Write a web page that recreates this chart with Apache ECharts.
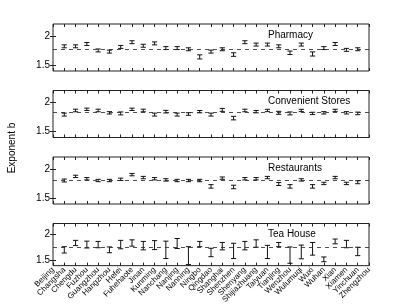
<!DOCTYPE html>
<html><head><meta charset="utf-8">
<script src="https://cdn.jsdelivr.net/npm/echarts@6/dist/echarts.min.js"></script>
<style>html,body{margin:0;padding:0;background:#fff}#c{width:407px;height:306px}</style>
</head><body><div id="c"></div>
<script>
const cities = ["Beijing","Changsha","Chengdu","Fuzhou","Guangzhou","Hangzhou","Hefei","Fuhehaote","Jinan","Kunming","Nanchang","Nanjing","Nanning","Ningbo","Qingdao","Shanghai","Shenzhen","Shenyang","Shijiazhuang","Taiyuan","Tianjing","Wenzhou","Wulumuqi","Wuxi","Wuhan","Xian","Xiamen","Yinchuan","Zhengzhou"];
const panelNames = ["Pharmacy","Convenient Stores","Restaurants","Tea House"];
const yTickValues = [1.5, 2];
const meanLines = [1.77, 1.83, 1.80, 1.74];

const pharmacyMean = [1.82,1.82,1.86,1.75,1.73,1.81,1.89,1.83,1.87,1.79,1.79,1.77,1.64,1.73,1.77,1.68,1.89,1.85,1.85,1.82,1.71,1.85,1.69,1.79,1.86,1.76,1.77];
const pharmacyErr  = [0.025,0.025,0.025,0.025,0.025,0.025,0.025,0.025,0.025,0.025,0.025,0.025,0.035,0.025,0.025,0.03,0.025,0.025,0.025,0.025,0.03,0.025,0.035,0.025,0.025,0.025,0.025];
const storesMean = [1.79,1.86,1.88,1.86,1.82,1.81,1.88,1.86,1.79,1.84,1.79,1.80,1.84,1.79,1.87,1.73,1.86,1.84,1.86,1.82,1.81,1.86,1.81,1.82,1.86,1.82,1.81];
const storesErr  = [0.025,0.022,0.02,0.022,0.02,0.025,0.02,0.022,0.025,0.022,0.025,0.022,0.02,0.025,0.025,0.03,0.022,0.02,0.02,0.025,0.025,0.02,0.02,0.02,0.02,0.02,0.022];
const restMean = [1.80,1.87,1.83,1.80,1.80,1.82,1.90,1.85,1.83,1.81,1.80,1.80,1.80,1.70,1.84,1.69,1.83,1.83,1.85,1.74,1.70,1.81,1.70,1.75,1.85,1.75,1.77];
const restErr  = [0.025,0.02,0.02,0.02,0.02,0.02,0.02,0.02,0.02,0.02,0.02,0.02,0.02,0.03,0.02,0.03,0.02,0.02,0.02,0.025,0.03,0.02,0.03,0.02,0.02,0.02,0.025];
const teaMean = [1.70,1.83,1.80,1.80,1.70,1.80,1.83,1.78,1.79,1.70,1.82,1.59,1.81,1.65,1.77,1.68,1.78,1.82,1.66,1.80,1.60,1.66,1.72,1.52,1.86,1.81,1.67];
const teaErr  = [0.06,0.05,0.065,0.06,0.055,0.08,0.06,0.08,0.085,0.165,0.095,0.17,0.05,0.08,0.07,0.145,0.08,0.07,0.125,0.04,0.155,0.13,0.12,0.045,0.045,0.07,0.08];

const means = [pharmacyMean, storesMean, restMean, teaMean];
const errs = [pharmacyErr, storesErr, restErr, teaErr];

const tops = [24, 90.5, 157, 223.5];
const H = 47;
const FONT = "Liberation Sans";
const chart = echarts.init(document.getElementById('c'), null, {renderer:'canvas'});

const grid = [], xAxis = [], yAxis = [], series = [];
for (let p = 0; p < 4; p++) {
  grid.push({left:53, right:38, top:tops[p], height:H, show:true, borderColor:'#222', borderWidth:1, backgroundColor:'#fff'});
  const last = p === 3;
  xAxis.push({type:'value', gridIndex:p, min:0, max:28, interval:1, position:'bottom',
    axisLine:{show:false}, splitLine:{show:false},
    axisTick:{show:true, inside:true, length:3, lineStyle:{color:'#222', width:1}},
    axisLabel:{show:last, rotate:45, fontSize:8, fontFamily:FONT, color:'#000', margin:3,
      showMinLabel:true, showMaxLabel:true, formatter:v => cities[Math.round(v)] || ''}});
  xAxis.push({type:'value', gridIndex:p, min:0, max:28, interval:1, position:'top',
    axisLine:{show:false}, splitLine:{show:false},
    axisTick:{show:true, inside:true, length:3, lineStyle:{color:'#222', width:1}},
    axisLabel:{show:false}});
  yAxis.push({type:'value', gridIndex:p, min:1.4, max:2.2, position:'left',
    axisLine:{show:false}, splitLine:{show:false},
    axisTick:{show:true, inside:true, length:3, customValues:yTickValues, lineStyle:{color:'#222'}},
    axisLabel:{show:true, customValues:yTickValues, fontSize:10, fontFamily:FONT, color:'#000', margin:3,
      formatter:v => String(v)}});
  yAxis.push({type:'value', gridIndex:p, min:1.4, max:2.2, position:'right',
    axisLine:{show:false}, splitLine:{show:false},
    axisTick:{show:true, inside:true, length:3, customValues:yTickValues, lineStyle:{color:'#222'}},
    axisLabel:{show:false}});
  const data = means[p].map((m, i) => [i + 1, m, errs[p][i]]);
  series.push({type:'custom', xAxisIndex:2*p, yAxisIndex:2*p, data:data, clip:true,
    renderItem:(params, api) => {
      const x = api.value(0), m = api.value(1), e = api.value(2);
      const top = api.coord([x, m + e]);
      const bot = api.coord([x, m - e]);
      const w = 2.6;
      const st = {stroke:'#111', lineWidth:1};
      return {type:'group', children:[
        {type:'line', shape:{x1:top[0], y1:top[1], x2:bot[0], y2:bot[1]}, style:st},
        {type:'line', shape:{x1:top[0]-w, y1:top[1], x2:top[0]+w, y2:top[1]}, style:st},
        {type:'line', shape:{x1:bot[0]-w, y1:bot[1], x2:bot[0]+w, y2:bot[1]}, style:st}
      ]};
    },
    markLine:{silent:true, symbol:'none', label:{show:false},
      lineStyle:{type:[4,4], color:'#222', width:0.8}, data:[{yAxis:meanLines[p]}]}
  });
}

const graphic = [];
for (let p = 0; p < 4; p++) {
  graphic.push({type:'text', left:268, top:tops[p] + 6,
    style:{text:panelNames[p], font:'10px ' + FONT, fill:'#000'}});
}
graphic.push({type:'text', x:12, y:148, rotation:Math.PI/2,
  style:{text:'Exponent b', font:'10px ' + FONT, fill:'#000', align:'center', verticalAlign:'middle'}});

chart.setOption({animation:false, grid, xAxis, yAxis, series, graphic});
</script></body></html>
